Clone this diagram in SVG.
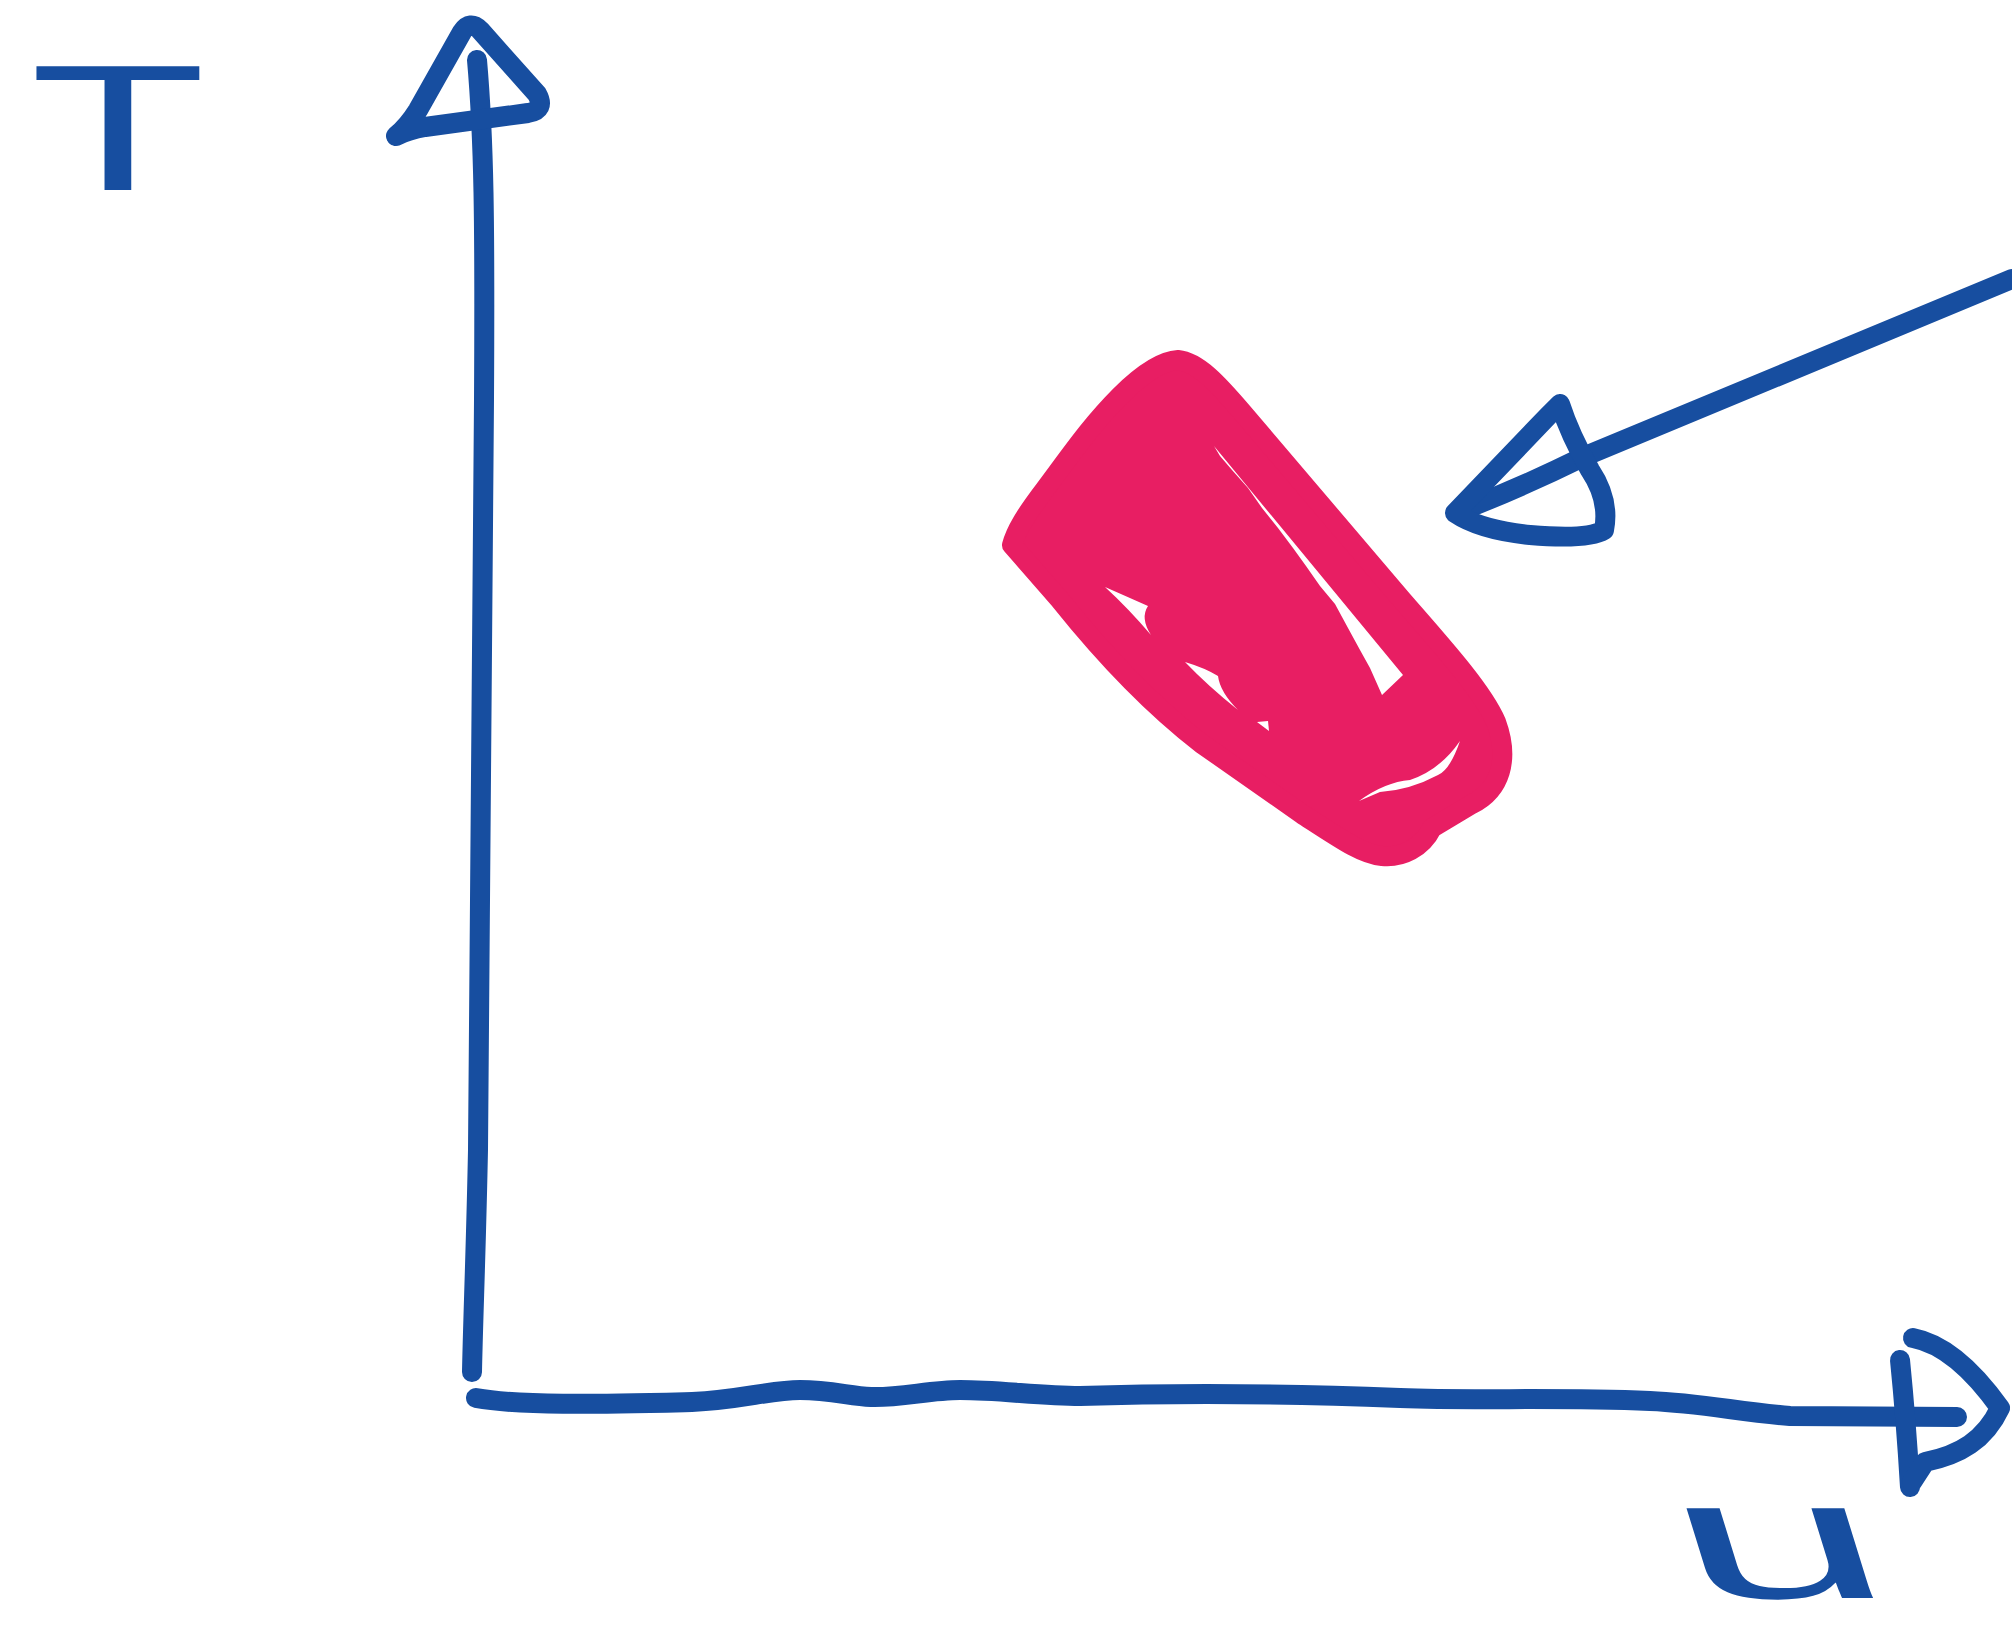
<svg xmlns="http://www.w3.org/2000/svg" width="2012" height="1632" viewBox="0 0 2012 1632">
<style>
.ink{fill:none;stroke:#174EA0;stroke-width:20;stroke-linecap:round;stroke-linejoin:round}
.lbl{fill:#174EA0;font-family:"Liberation Sans",Arial,sans-serif}
.red{fill:#E81E63;stroke:#E81E63;stroke-width:20;stroke-linejoin:round}
.gap{fill:#FFFFFF}
</style>
<rect width="2012" height="1632" fill="#FFFFFF"/>
<g id="label-T">
<text class="lbl" x="0" y="0" font-size="180" transform="translate(30,190) scale(1.6,1)">T</text>
</g>
<g id="label-u">
<text class="lbl" x="0" y="0" font-size="170" transform="translate(1690,1598) scale(2.2,1) skewX(8)">u</text>
</g>
<g id="red-shape">
<path class="red" d="M1178,360 C1198,362 1218,384 1242,412 L1402,600 C1442,646 1482,690 1496,722 C1510,760 1500,790 1472,804 L1432,828 C1422,848 1402,858 1382,856 C1362,854 1342,840 1302,814 L1202,744 C1150,704 1100,650 1060,600 L1012,545 C1016,530 1026,515 1040,496 C1070,456 1090,426 1120,396 C1140,376 1160,361 1178,360 Z"/>
<path class="gap" d="M1214,446 L1403,675 L1382,695 L1370,668 L1360,650 L1348,628 L1335,604 L1320,586 L1306,566 L1293,548 L1278,528 L1262,508 L1248,488 L1232,470 L1220,456 Z"/>
<path class="gap" d="M1105,587 Q1130,598 1148,606 Q1140,618 1151,635 Q1128,608 1105,587 Z"/>
<path class="gap" d="M1185,662 Q1205,668 1218,676 Q1220,692 1238,710 Q1208,686 1185,662 Z"/>
<path class="gap" d="M1257,722 L1268,721 L1269,731 Z"/>
<path class="gap" d="M1359,801 Q1385,782 1410,780 Q1440,770 1460,741 Q1450,770 1438,775 Q1410,790 1380,792 Z"/>
</g>
<g id="connectors">
<path class="ink" d="M477,60 C484,140 485,220 484,400 C483,700 481,1000 478,1150 C476,1250 473,1320 472,1372"/>
<path class="ink" d="M396,136 Q408,126 418,110 L462,32 Q470,20 480,30 L537,94 Q546,110 528,113 L425,127 Q408,130 396,136"/>
<path class="ink" d="M476,1398 C520,1406 600,1404 692,1402 C740,1400 770,1390 800,1390 C830,1390 850,1396 871,1397 C900,1398 930,1390 960,1390 C1000,1390 1040,1396 1080,1396 C1200,1392 1300,1394 1400,1398 C1480,1401 1550,1397 1650,1401 C1700,1403 1740,1412 1790,1416 L1957,1417"/>
<path class="ink" d="M1900,1360 Q1906,1420 1910,1487"/>
<path class="ink" d="M1913,1338 C1950,1345 1980,1380 2000,1408 C1985,1440 1960,1455 1925,1462 L1912,1482"/>
<path class="ink" d="M2012,279 L1583,457 Q1520,488 1458,512"/>
<path class="ink" d="M1560,404 L1548,416 L1455,513 Q1480,530 1530,535 Q1588,540 1604,530 Q1610,500 1590,470 Q1570,435 1560,404"/>
</g>
</svg>
